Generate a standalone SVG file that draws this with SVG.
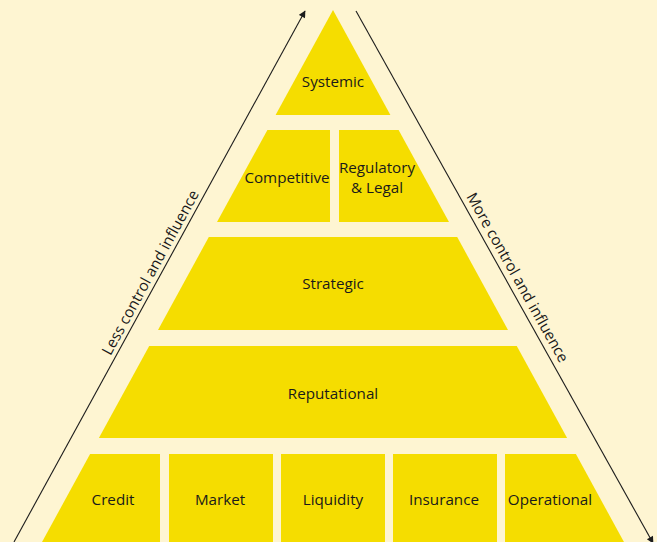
<svg xmlns="http://www.w3.org/2000/svg" width="657" height="542" viewBox="0 0 657 542">
  <defs>
    <style>
      .tier { fill: #F5DD00; }
      .lbl { font-family: "Open Sans", "Noto Sans", "Liberation Sans", sans-serif; font-size: 15.2px; fill: #1a1a1a; text-anchor: middle; }
      .axis { stroke: #1c1c1c; stroke-width: 1.1; fill: none; }
    </style>
    <marker id="head" viewBox="0 0 10 10" refX="9" refY="5" markerWidth="10" markerHeight="7" markerUnits="userSpaceOnUse" orient="auto">
      <path d="M0,0 L10,5 L0,10 Z" fill="#1c1c1c"/>
    </marker>
  </defs>

  <rect width="657" height="542" fill="#FEF5D2"/>

  <!-- control / influence axes -->
  <g id="connectors">
    <line class="axis" x1="14" y1="542" x2="305" y2="11" marker-end="url(#head)"/>
    <line class="axis" x1="356" y1="11" x2="653" y2="543" marker-end="url(#head)"/>
    <text class="lbl" transform="translate(155,275) rotate(-61.3)">Less control and influence</text>
    <text class="lbl" transform="translate(513,280) rotate(60.7)">More control and influence</text>
  </g>

  <g id="systemic">
    <polygon class="tier" points="333,10 390.4,115 275.6,115"/>
    <text class="lbl" x="333" y="87">Systemic</text>
  </g>

  <g id="competitive">
    <polygon class="tier" points="267.4,130 330,130 330,222 217,222"/>
    <text class="lbl" x="287" y="183">Competitive</text>
  </g>

  <g id="regulatory">
    <polygon class="tier" points="339,130 398.6,130 449,222 339,222"/>
    <text class="lbl" x="377" y="173">Regulatory</text>
    <text class="lbl" x="377" y="193">&amp; Legal</text>
  </g>

  <g id="strategic">
    <polygon class="tier" points="208.8,237 457.2,237 508,330 158,330"/>
    <text class="lbl" x="333" y="289">Strategic</text>
  </g>

  <g id="reputational">
    <polygon class="tier" points="149.2,346 516.8,346 567.1,438 98.9,438"/>
    <text class="lbl" x="333" y="399">Reputational</text>
  </g>

  <g id="credit">
    <polygon class="tier" points="90.1,454 160,454 160,545 40.4,545"/>
    <text class="lbl" x="113" y="505">Credit</text>
  </g>

  <g id="market">
    <rect class="tier" x="169" y="454" width="104" height="91"/>
    <text class="lbl" x="220" y="505">Market</text>
  </g>

  <g id="liquidity">
    <rect class="tier" x="281" y="454" width="104" height="91"/>
    <text class="lbl" x="333" y="505">Liquidity</text>
  </g>

  <g id="insurance">
    <rect class="tier" x="393" y="454" width="104" height="91"/>
    <text class="lbl" x="444" y="505">Insurance</text>
  </g>

  <g id="operational">
    <polygon class="tier" points="505,454 575.9,454 625.6,545 505,545"/>
    <text class="lbl" x="550" y="505">Operational</text>
  </g>
</svg>
